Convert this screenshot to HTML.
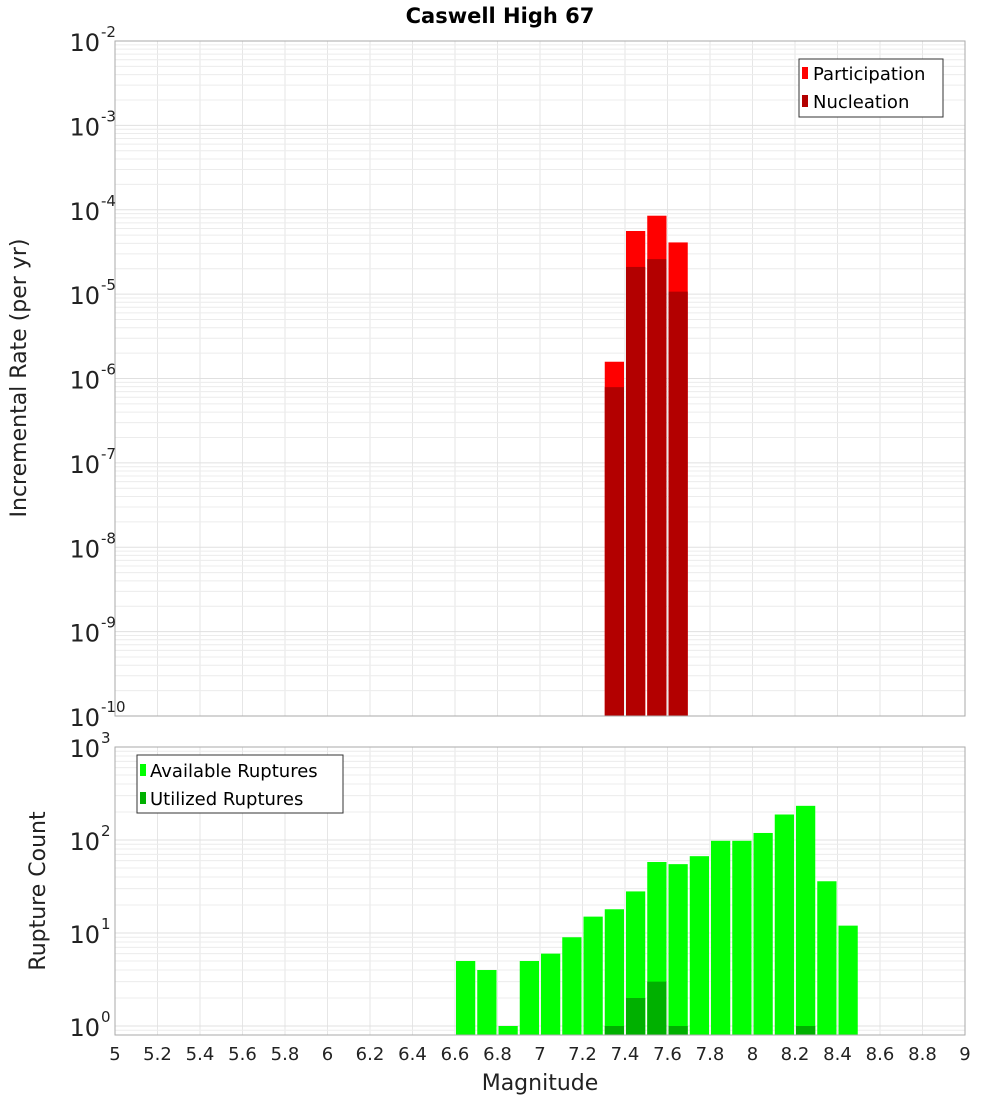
<!DOCTYPE html>
<html><head><meta charset="utf-8"><style>
body{margin:0;background:#fff;font-family:"DejaVu Sans","Liberation Sans",sans-serif}
svg text{font-family:"DejaVu Sans","Liberation Sans",sans-serif}
</style></head><body>
<svg id="c" width="1000" height="1100" xmlns="http://www.w3.org/2000/svg"></svg>
<script>
const mags=[7.35,7.45,7.55,7.65];
const participation=[1.58e-6,5.6e-5,8.5e-5,4.1e-5];
const nucleation=[7.9e-7,2.1e-5,2.6e-5,1.07e-5];
const availMags=[6.65,6.75,6.85,6.95,7.05,7.15,7.25,7.35,7.45,7.55,7.65,7.75,7.85,7.95,8.05,8.15,8.25,8.35,8.45];
const available=[5,4,1,5,6,9,15,18,28,58,55,67,98,98,119,188,233,36,12];
const utilMags=[7.35,7.45,7.55,7.65,8.25];
const utilized=[1,2,3,1,1];
const xTicks=[5,5.2,5.4,5.6,5.8,6,6.2,6.4,6.6,6.8,7,7.2,7.4,7.6,7.8,8,8.2,8.4,8.6,8.8,9];

const NS="http://www.w3.org/2000/svg";
const svg=document.getElementById('c');
function mk(t,a,p){const e=document.createElementNS(NS,t);for(const k in a)e.setAttribute(k,a[k]);(p||svg).appendChild(e);return e;}
const X0=115,X1=965;
const xs=m=>X0+(m-5)/4*(X1-X0);
const y1=v=>41+(-2-Math.log10(v))*84.375;
const y2=v=>1026-Math.log10(v)*93;

function grid(top,bot,yf,dmin,dmax){
  const g=mk('g',{});
  
  
  for(const t of xTicks){const x=xs(t);mk('line',{x1:x,x2:x,y1:top,y2:bot,stroke:'#e6e6e6','stroke-width':1},g);}
  for(let d=dmin;d<dmax;d++)for(let k=1;k<10;k++){const y=yf(k*Math.pow(10,d));if(y<top||y>bot)continue;mk('line',{x1:X0,x2:X1,y1:y,y2:y,stroke:k==1?'#e0e0e0':'#ececec','stroke-width':1},g);}
}
function bars(ms,vs,yf,bot,col,name){
  ms.forEach((m,i)=>{const x=xs(m-0.05)+1,w=xs(m+0.05)-xs(m-0.05)-2,y=yf(vs[i]);
    const r=mk('rect',{x:x,y:y,width:w,height:bot-y,fill:col});
    
    });
}
function pow10(x,y,e,name){
  const t=mk('text',{x:x,y:y,'font-size':24,'text-anchor':'end',fill:'#222'});
  
  
  t.textContent='10';
  const s=mk('text',{x:x+1,y:y-14,'font-size':15,'text-anchor':'start',fill:'#222'});
  s.textContent=e;
}
// title
const ti=mk('text',{x:500,y:23,'font-size':21,'font-weight':'bold','text-anchor':'middle'});
ti.textContent='Caswell High 67';

// top plot
grid(41,716,y1,-10,-2);
bars(mags,participation,y1,716,'#ff0000','participation-bar');
bars(mags,nucleation,y1,716,'#b30000','nucleation-bar');
mk('rect',{x:X0,y:41,width:X1-X0,height:675,fill:'none',stroke:'#aaa'});
for(let d=-10;d<=-2;d++)pow10(100,y1(Math.pow(10,d))+10,String(d),'y-tick-top');
const yt=mk('text',{x:0,y:0,'font-size':22,'text-anchor':'middle',transform:'translate(26,378) rotate(-90)',fill:'#222'});
yt.textContent='Incremental Rate (per yr)';
// legend top
const lg=mk('g',{});
mk('rect',{x:799,y:59,width:144,height:58,fill:'#fff',stroke:'#333'},lg);
mk('rect',{x:802,y:67,width:6,height:12,fill:'#ff0000'},lg);
mk('rect',{x:802,y:95,width:6,height:12,fill:'#b30000'},lg);
let t=mk('text',{x:813,y:80,'font-size':18},lg);t.textContent='Participation';
t=mk('text',{x:813,y:108,'font-size':18},lg);t.textContent='Nucleation';

// bottom plot
grid(747,1035,y2,-1,3);
bars(availMags,available,y2,1035,'#00ff00','available-bar');
bars(utilMags,utilized,y2,1035,'#00b000','utilized-bar');
mk('rect',{x:X0,y:747,width:X1-X0,height:288,fill:'none',stroke:'#aaa'});
for(let d=0;d<=3;d++)pow10(100,y2(Math.pow(10,d))+10,String(d),'y-tick-bottom');
const yb=mk('text',{x:0,y:0,'font-size':22,'text-anchor':'middle',transform:'translate(45,891) rotate(-90)',fill:'#222'});
yb.textContent='Rupture Count';
const lb=mk('g',{});
mk('rect',{x:137,y:755,width:206,height:58,fill:'#fff',stroke:'#333'},lb);
mk('rect',{x:140,y:764,width:6,height:12,fill:'#00ff00'},lb);
mk('rect',{x:140,y:792,width:6,height:12,fill:'#00b000'},lb);
t=mk('text',{x:150,y:777,'font-size':18},lb);t.textContent='Available Ruptures';
t=mk('text',{x:150,y:805,'font-size':18},lb);t.textContent='Utilized Ruptures';
// x ticks
xTicks.forEach(v=>{const e=mk('text',{x:xs(v),y:1060,'font-size':18,'text-anchor':'middle',fill:'#222'});
  e.textContent=String(v);});
const xt=mk('text',{x:540,y:1090,'font-size':22,'text-anchor':'middle',fill:'#222'});
xt.textContent='Magnitude';
</script>
</body></html>
